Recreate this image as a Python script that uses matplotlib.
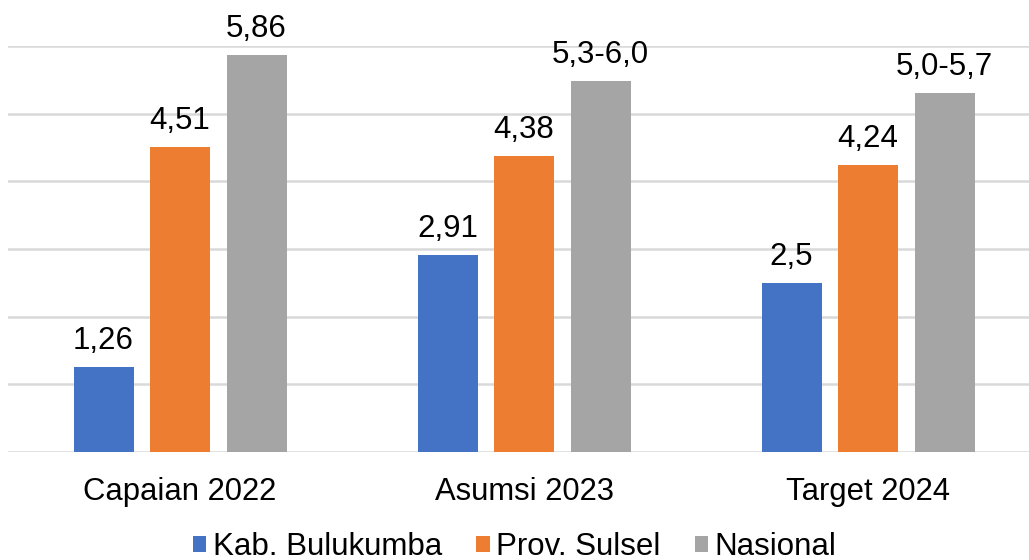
import matplotlib.pyplot as plt
import numpy as np
from matplotlib.patches import Patch

plt.rcParams['font.family'] = ['Liberation Sans', 'DejaVu Sans']

categories = ['Capaian 2022', 'Asumsi 2023', 'Target 2024']
series = ['Kab. Bulukumba', 'Prov. Sulsel', 'Nasional']
bulukumba = [1.26, 2.91, 2.5]
sulsel = [4.51, 4.38, 4.24]
nasional = [5.86, 5.48, 5.30]
nasional_labels = ['5,86', '5,3-6,0', '5,0-5,7']
colors = ['#4472C4', '#ED7D31', '#A5A5A5']

fig = plt.figure(figsize=(10.29, 5.6), dpi=100)
ax = fig.add_axes([8 / 1029, 108 / 560, 1032 / 1029, 406 / 560])

x = np.arange(len(categories))
w = 60 / 344
step = 76.5 / 344

def fmt(v):
    s = ('%.2f' % v).rstrip('0').rstrip('.')
    return s.replace('.', ',')

all_vals = [bulukumba, sulsel, nasional]
for i, vals in enumerate(all_vals):
    bars = ax.bar(x + (i - 1) * step, vals, width=w, color=colors[i], zorder=3)
    labels = nasional_labels if i == 2 else [fmt(v) for v in vals]
    for b, lab in zip(bars, labels):
        ax.annotate(lab, (b.get_x() + b.get_width() / 2, b.get_height()),
                    xytext=(0, 13), textcoords='offset points',
                    ha='center', va='baseline', fontsize=22.5, color='#000000',
                    annotation_clip=False)

ax.set_xlim(-0.5, 2.5)
ax.set_ylim(0, 6)
ax.set_yticks(np.arange(0, 7, 1))
ax.yaxis.grid(True, color='#D9D9D9', linewidth=1.8, zorder=0)
ax.tick_params(axis='y', left=False, labelleft=False)
ax.set_xticks(x)
ax.set_xticklabels(categories, fontsize=22.3)
ax.tick_params(axis='x', length=0, pad=18)
for s in ax.spines.values():
    s.set_visible(False)

handles = [Patch(facecolor=c) for c in colors]
fig.legend(handles, series, loc='center', bbox_to_anchor=(0.5, 13 / 560),
           ncol=3, frameon=False, fontsize=22.5, handlelength=0.43, handleheight=0.43,
           handletextpad=0.2, columnspacing=1.1, borderpad=0)

fig.savefig('out.png', dpi=100)
